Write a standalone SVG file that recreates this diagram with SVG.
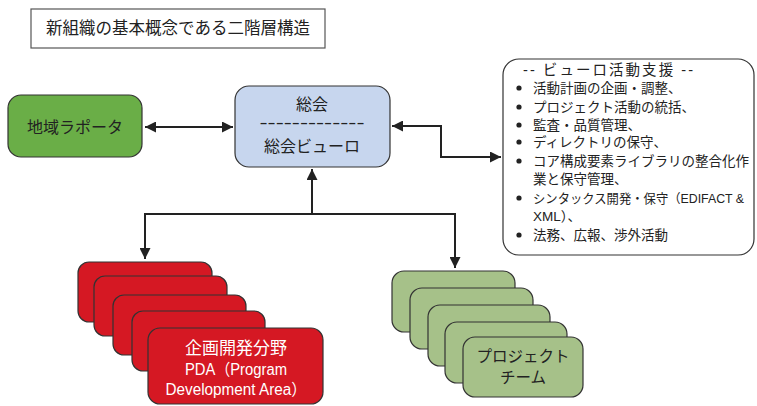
<svg xmlns="http://www.w3.org/2000/svg" width="757" height="406" viewBox="0 0 757 406">
<style>
text{font-family:"Liberation Sans","Noto Sans CJK JP",sans-serif;fill:#222}
.box{stroke:#333;stroke-width:1.2}
.red{fill:#d51823}
.grn{fill:#a6c189}
.w{fill:#fff}
.c{text-anchor:middle}
.con{fill:none;stroke:#222;stroke-width:2}
.lst{font-size:13.5px}
</style>
<defs>
<marker id="ah" viewBox="0 0 10 10" refX="10" refY="5" markerWidth="5.5" markerHeight="5.5" orient="auto-start-reverse" markerUnits="strokeWidth">
<path d="M0,0 L10,5 L0,10 z" fill="#222"/>
</marker>
</defs>
<g id="title">
<rect x="31" y="9" width="294" height="39" fill="#fff" stroke="#555" stroke-width="1.2"/>
<text x="178" y="34" class="c" font-size="16.5">新組織の基本概念である二階層構造</text>
</g>
<g id="connectors">
<line class="con" x1="145" y1="127" x2="233" y2="127" marker-start="url(#ah)" marker-end="url(#ah)"/>
<polyline class="con" points="392,126 441,126 441,157 501,157" marker-start="url(#ah)" marker-end="url(#ah)"/>
<line class="con" x1="312" y1="214" x2="312" y2="169" marker-end="url(#ah)"/>
<polyline class="con" points="145,259 145,214 455,214 455,268" marker-start="url(#ah)" marker-end="url(#ah)"/>
</g>
<g id="chiiki">
<rect class="box" x="8" y="95" width="134" height="62" rx="13" fill="#6aae47"/>
<text x="75" y="133" class="c" font-size="16">地域ラポータ</text>
</g>
<g id="soukai">
<rect class="box" x="235" y="86" width="155" height="81" rx="14" fill="#c7d6ee"/>
<text x="312" y="128" class="c" font-size="17" textLength="105" lengthAdjust="spacingAndGlyphs" fill="#555">-------------</text>
<text x="312" y="110" class="c" font-size="16">総会</text>
<text x="312" y="152" class="c" font-size="16">総会ビューロ</text>
</g>
<g id="bureau">
<rect class="box" x="503" y="59" width="251" height="196" rx="16" fill="#fff"/>
<text x="523" y="75" font-size="14.5" textLength="170" lengthAdjust="spacing">-- ビューロ活動支援 --</text>
<g fill="#222">
<circle cx="519" cy="88" r="2.6"/><circle cx="519" cy="107" r="2.6"/><circle cx="519" cy="125" r="2.6"/><circle cx="519" cy="142" r="2.6"/><circle cx="519" cy="161" r="2.6"/><circle cx="519" cy="198" r="2.6"/><circle cx="519" cy="235" r="2.6"/>
</g>
<text class="lst" x="533" y="93">活動計画の企画・調整、</text>
<text class="lst" x="533" y="112">プロジェクト活動の統括、</text>
<text class="lst" x="533" y="130">監査・品質管理、</text>
<text class="lst" x="533" y="147">ディレクトリの保守、</text>
<text class="lst" x="533" y="166">コア構成要素ライブラリの整合化作</text>
<text class="lst" x="533" y="184">業と保守管理、</text>
<text x="533" y="203" font-size="12.6" textLength="211" lengthAdjust="spacingAndGlyphs">シンタックス開発・保守（EDIFACT &amp;</text>
<text class="lst" x="533" y="221">XML）、</text>
<text class="lst" x="533" y="240">法務、広報、渉外活動</text>
</g>
<g id="pda">
<rect class="box red" x="78" y="262" width="134" height="60" rx="11"/>
<rect class="box red" x="94" y="276" width="133" height="60" rx="11"/>
<rect class="box red" x="113" y="295" width="133" height="60" rx="11"/>
<rect class="box red" x="132" y="311" width="133" height="60" rx="11"/>
<rect class="box red" x="148" y="328" width="175" height="76" rx="12"/>
<text x="236" y="354" class="c w" font-size="17">企画開発分野</text>
<text x="236" y="375" class="c w" font-size="16" textLength="102" lengthAdjust="spacingAndGlyphs">PDA（Program</text>
<text x="236" y="395" class="c w" font-size="16" textLength="141" lengthAdjust="spacingAndGlyphs">Development Area）</text>
</g>
<g id="project">
<rect class="box grn" x="392" y="271" width="123" height="61" rx="12"/>
<rect class="box grn" x="410" y="288" width="123" height="61" rx="12"/>
<rect class="box grn" x="428" y="305" width="122" height="61" rx="12"/>
<rect class="box grn" x="445" y="322" width="122" height="61" rx="12"/>
<rect class="box grn" x="463" y="337" width="120" height="60" rx="12"/>
<text x="523" y="362" class="c" font-size="15.5">プロジェクト</text>
<text x="523" y="383" class="c" font-size="15.5">チーム</text>
</g>
</svg>
